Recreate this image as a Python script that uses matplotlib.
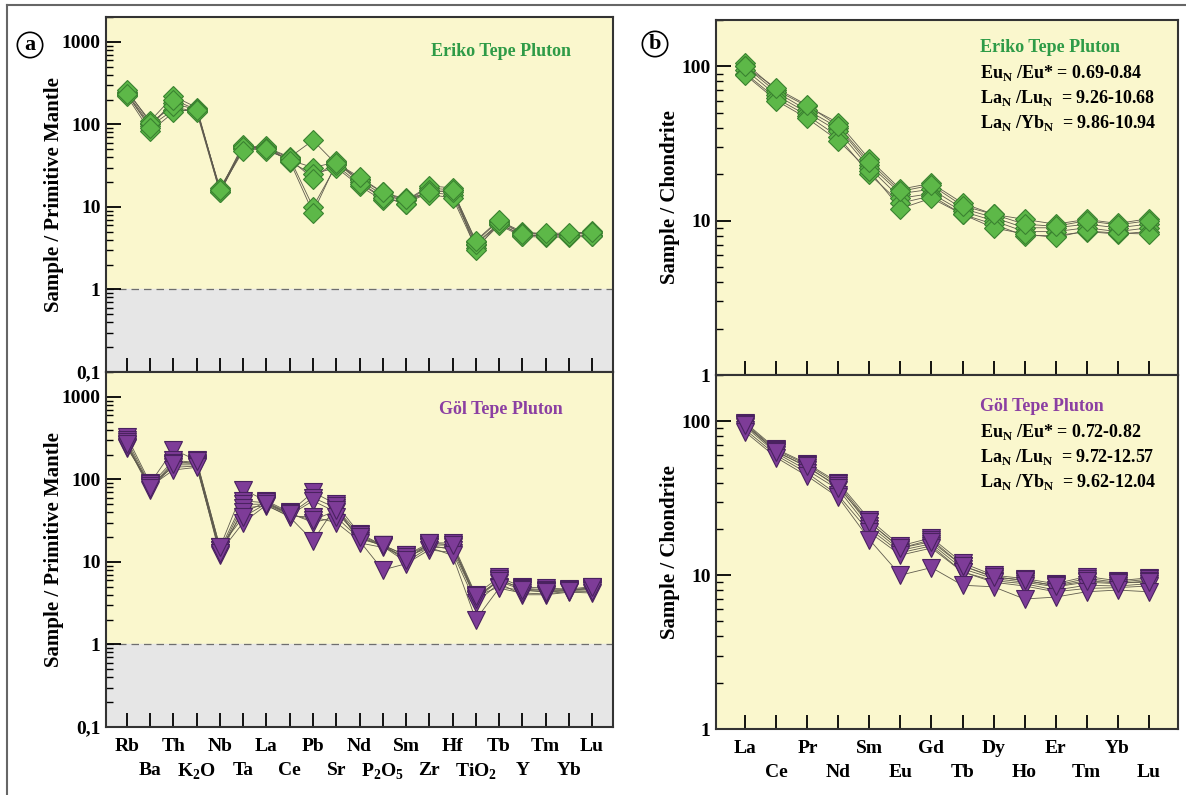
import numpy as np
import matplotlib
matplotlib.use("Agg")
import matplotlib.pyplot as plt
from matplotlib.lines import Line2D
from matplotlib.ticker import LogLocator, FixedLocator, FixedFormatter, NullFormatter

plt.rcParams["font.family"] = ["Liberation Serif", "DejaVu Serif"]
plt.rcParams["font.weight"] = "bold"
plt.rcParams["axes.labelweight"] = "bold"

# ── Data ──────────────────────────────────────────────────────────────────────
PM_ELEMENTS = ["Rb", "Ba", "Th", r"K$_\mathregular{2}$O", "Nb", "Ta", "La", "Ce", "Pb", "Sr",
               "Nd", r"P$_\mathregular{2}$O$_\mathregular{5}$", "Sm", "Zr", "Hf",
               r"TiO$_\mathregular{2}$", "Tb", "Y", "Tm", "Yb", "Lu"]
REE_ELEMENTS = ["La", "Ce", "Pr", "Nd", "Sm", "Eu", "Gd", "Tb", "Dy", "Ho",
                "Er", "Tm", "Yb", "Lu"]

# Eriko Tepe, primitive-mantle normalised (one row per sample)
eriko_pm = [
    [250, 110, 220, 160, 16, 55, 53, 40, 64, 33, 22, 15, 12, 17, 16, 3.8, 6.8, 5.0, 4.7, 4.6, 5.1],
    [240, 100, 180, 150, 15, 52, 50, 37, 30, 35, 20, 13, 11, 15, 14, 3.5, 6.2, 4.6, 4.4, 4.5, 4.6],
    [230, 95, 150, 145, 17, 50, 55, 35, 25, 30, 18, 12, 13, 14, 13, 3.2, 6.0, 4.4, 4.3, 4.3, 4.4],
    [220, 82, 140, 155, 16, 57, 48, 38, 22, 36, 21, 14, 12, 18, 17, 3.0, 6.5, 4.8, 4.6, 4.7, 4.8],
    [260, 105, 165, 140, 15, 53, 52, 39, 10, 32, 19, 13, 11, 16, 15, 3.6, 6.3, 4.5, 4.5, 4.4, 4.5],
    [235, 90, 200, 150, 16, 48, 51, 36, 8.5, 34, 23, 15, 12.5, 15, 16, 3.9, 7.0, 4.7, 4.8, 4.8, 5.0],
]
# Göl Tepe, primitive-mantle normalised
gol_pm = [
    [330, 90, 230, 170, 15, 75, 55, 40, 70, 50, 22, 16, 12, 17, 17, 4.0, 6.5, 5.0, 4.8, 4.7, 5.0],
    [300, 85, 170, 160, 14, 55, 52, 38, 60, 45, 21, 16, 11, 16, 16, 3.5, 6.0, 4.8, 4.6, 4.6, 4.8],
    [280, 80, 160, 155, 13, 50, 50, 37, 55, 40, 20, 15.5, 10, 15, 15, 3.8, 5.0, 4.5, 4.4, 4.5, 4.6],
    [260, 75, 150, 150, 12, 45, 48, 36, 35, 30, 18, 8, 9.5, 14, 13, 3.2, 5.5, 4.0, 4.0, 4.3, 4.2],
    [240, 88, 140, 145, 14, 40, 53, 39, 30, 35, 19, 16, 12, 16, 14, 3.6, 6.2, 4.7, 4.5, 4.6, 4.7],
    [250, 82, 130, 140, 13, 30, 49, 35, 18, 48, 17, 15, 11.5, 15, 12, 2.0, 4.8, 4.2, 4.1, 4.4, 4.4],
    [270, 78, 155, 165, 15, 35, 51, 38, 32, 42, 20, 16, 10.5, 17, 16, 3.9, 5.8, 4.6, 4.3, 4.5, 4.9],
]
# Eriko Tepe, chondrite normalised
eriko_ree = [
    [105, 70, 55, 43, 25, 16, 17.5, 13, 11, 10.2, 9.5, 10.2, 9.6, 10.3],
    [100, 68, 52, 40, 23, 15, 16, 12, 10.5, 9.0, 9.0, 9.5, 9.0, 9.5],
    [95, 65, 50, 38, 22, 14, 15, 11.5, 10, 8.5, 8.5, 9.0, 8.5, 9.0],
    [90, 62, 48, 35, 20, 13, 14.5, 11, 9.5, 8.0, 8.0, 8.5, 8.2, 8.5],
    [88, 60, 46, 33, 21, 12, 14, 11, 9, 8.2, 7.8, 8.6, 8.3, 8.2],
    [100, 72, 56, 41, 24, 15.5, 17, 12.5, 11, 9.5, 9.2, 10, 9.4, 10],
]
# Göl Tepe, chondrite normalised
gol_ree = [
    [98, 66, 53, 40, 23, 15.5, 17.5, 12, 10, 9.5, 8.8, 9.8, 9.2, 9.6],
    [96, 65, 52, 39, 22, 15, 17, 11.5, 9.8, 9.2, 8.6, 9.5, 9.0, 9.4],
    [94, 64, 50, 38, 21, 14.5, 16, 11, 9.5, 9.0, 8.4, 9.0, 8.8, 9.2],
    [92, 62, 48, 36, 20, 14, 15.5, 10.5, 9.2, 8.8, 8.0, 8.6, 8.5, 8.8],
    [88, 60, 46, 33, 19, 13.5, 15, 10.5, 9, 8.5, 7.8, 8.2, 8.3, 8.5],
    [85, 58, 44, 32, 17, 10, 11.2, 8.6, 8.4, 7.0, 7.2, 7.8, 8.0, 7.8],
    [95, 63, 51, 37, 22, 15, 16.5, 11.5, 9.7, 9.3, 8.5, 9.2, 8.9, 9.0],
]

ERIKO_RATIOS = [r"Eu$_\mathregular{N}$ /Eu* = 0.69-0.84",
                r"La$_\mathregular{N}$ /Lu$_\mathregular{N}$  = 9.26-10.68",
                r"La$_\mathregular{N}$ /Yb$_\mathregular{N}$  = 9.86-10.94"]
GOL_RATIOS = [r"Eu$_\mathregular{N}$ /Eu* = 0.72-0.82",
              r"La$_\mathregular{N}$ /Lu$_\mathregular{N}$  = 9.72-12.57",
              r"La$_\mathregular{N}$ /Yb$_\mathregular{N}$  = 9.62-12.04"]

# ── Styles ────────────────────────────────────────────────────────────────────
BG_YELLOW = "#FAF7CD"
BG_GRAY = "#E6E6E6"
GREEN = "#2E9B47"
PURPLE = "#8B3FA2"
GREEN_FACE, GREEN_EDGE = "#5DB848", "#3A8230"
PURPLE_FACE, PURPLE_EDGE = "#7E3C98", "#4A2260"
LINE_COL = "#5f5b4e"

W, H = 1186, 795
fig = plt.figure(figsize=(W / 100, H / 100), dpi=100)


def px_axes(left, top, right, bottom):
    return fig.add_axes([left / W, 1 - bottom / H, (right - left) / W, (bottom - top) / H])


def style_axes(ax, ylim, yticks, yticklabels, xlim):
    ax.set_facecolor(BG_YELLOW)
    ax.set_yscale("log")
    ax.set_ylim(*ylim)
    ax.set_xlim(*xlim)
    ax.yaxis.set_major_locator(FixedLocator(yticks))
    ax.yaxis.set_major_formatter(FixedFormatter(yticklabels))
    ax.yaxis.set_minor_locator(LogLocator(base=10, subs=np.arange(2, 10)))
    ax.yaxis.set_minor_formatter(NullFormatter())
    ax.tick_params(axis="y", which="major", direction="in", length=11, width=1.3,
                   labelsize=14, pad=4, right=False)
    ax.tick_params(axis="y", which="minor", direction="in", length=5, width=1.0, right=False)
    for s in ax.spines.values():
        s.set_linewidth(1.5)
        s.set_color("#333333")


def draw_samples(ax, rows, marker, ms, face, edge):
    for row in rows:
        ax.plot(range(len(row)), row, "-", color=LINE_COL, lw=0.6, zorder=2)
    for row in rows:
        ax.plot(range(len(row)), row, linestyle="none", marker=marker, ms=ms,
                mfc=face, mec=edge, mew=0.8, zorder=3)


def set_element_ticks(ax, names, show):
    # even elements on the upper label row (major ticks), odd ones on the lower row (minor)
    idx = np.arange(len(names))
    ax.xaxis.set_major_locator(FixedLocator(idx[::2]))
    ax.xaxis.set_minor_locator(FixedLocator(idx[1::2]))
    if show:
        ax.xaxis.set_major_formatter(FixedFormatter(names[::2]))
        ax.xaxis.set_minor_formatter(FixedFormatter(names[1::2]))
    else:
        ax.xaxis.set_major_formatter(NullFormatter())
        ax.xaxis.set_minor_formatter(NullFormatter())
    ax.tick_params(axis="x", which="major", direction="in", length=10, width=1.3,
                   labelsize=14, pad=8, top=False)
    ax.tick_params(axis="x", which="minor", direction="in", length=10, width=1.3,
                   labelsize=14, pad=25, top=False)


# ── Panel a: spider diagrams ─────────────────────────────────────────────────
pm_xlim = (-0.9, len(PM_ELEMENTS) - 0.1)
pm_ylim = (0.1, 2000)
pm_ticks = [0.1, 1, 10, 100, 1000]
pm_labels = ["0,1", "1", "10", "100", "1000"]

ax_a1 = px_axes(106, 17, 613, 372)
ax_a2 = px_axes(106, 372, 613, 727)
for ax, rows, marker, ms, face, edge, show in [
        (ax_a1, eriko_pm, "D", 10, GREEN_FACE, GREEN_EDGE, False),
        (ax_a2, gol_pm, "v", 12.5, PURPLE_FACE, PURPLE_EDGE, True)]:
    style_axes(ax, pm_ylim, pm_ticks, pm_labels, pm_xlim)
    ax.axhspan(0.1, 1, color=BG_GRAY, zorder=0)
    ax.axhline(1, color="#6e6e6e", lw=0.9, ls=(0, (6, 4)), zorder=1)
    draw_samples(ax, rows, marker, ms, face, edge)
    set_element_ticks(ax, PM_ELEMENTS, show)
    ax.set_ylabel("Sample / Primitive Mantle", fontsize=15)
    ax.yaxis.set_label_coords(-0.083, 0.5)

ax_a1.text(0.78, 0.903, "Eriko Tepe Pluton", transform=ax_a1.transAxes, color=GREEN,
           fontsize=13, ha="center", va="center")
ax_a2.text(0.778, 0.894, "Göl Tepe Pluton", transform=ax_a2.transAxes, color=PURPLE,
           fontsize=13, ha="center", va="center")

# ── Panel b: REE diagrams ────────────────────────────────────────────────────
ree_xlim = (-0.95, len(REE_ELEMENTS) - 0.05)
ree_ylim = (1, 200)
ree_ticks = [1, 10, 100]
ree_labels = ["1", "10", "100"]

ax_b1 = px_axes(716, 20, 1178, 375)
ax_b2 = px_axes(716, 375, 1178, 729)
for ax, rows, marker, ms, face, edge, show in [
        (ax_b1, eriko_ree, "D", 10, GREEN_FACE, GREEN_EDGE, False),
        (ax_b2, gol_ree, "v", 12.5, PURPLE_FACE, PURPLE_EDGE, True)]:
    style_axes(ax, ree_ylim, ree_ticks, ree_labels, ree_xlim)
    draw_samples(ax, rows, marker, ms, face, edge)
    set_element_ticks(ax, REE_ELEMENTS, show)
    ax.set_ylabel("Sample / Chondrite", fontsize=15)
    ax.yaxis.set_label_coords(-0.078, 0.5)

for ax, title, color, ratios, top_px, ax_top in [
        (ax_b1, "Eriko Tepe Pluton", GREEN, ERIKO_RATIOS, 48, 20),
        (ax_b2, "Göl Tepe Pluton", PURPLE, GOL_RATIOS, 407, 375)]:
    x0 = (980 - 716) / (1178 - 716)
    h = 355
    ax.text(x0, 1 - (top_px - ax_top) / h, title, transform=ax.transAxes, color=color,
            fontsize=13, ha="left", va="center")
    for k, line in enumerate(ratios):
        ax.text(x0, 1 - (top_px + 25 * (k + 1) - ax_top) / h, line, transform=ax.transAxes,
                color="black", fontsize=13, ha="left", va="center")

# ── Panel letters and outer frame ────────────────────────────────────────────
for letter, cx, cy in [("a", 30, 45), ("b", 655, 44)]:
    fig.text(cx / W, 1 - cy / H, letter, fontsize=16, ha="center", va="center",
             bbox=dict(boxstyle="circle,pad=0.12", fc="white", ec="black", lw=1.2))

fig.add_artist(Line2D([7 / W, 1], [1 - 5 / H, 1 - 5 / H], color="#666666", lw=1.5))
fig.add_artist(Line2D([7 / W, 7 / W], [0, 1 - 5 / H], color="#666666", lw=1.5))

fig.savefig("out.png", dpi=100)
